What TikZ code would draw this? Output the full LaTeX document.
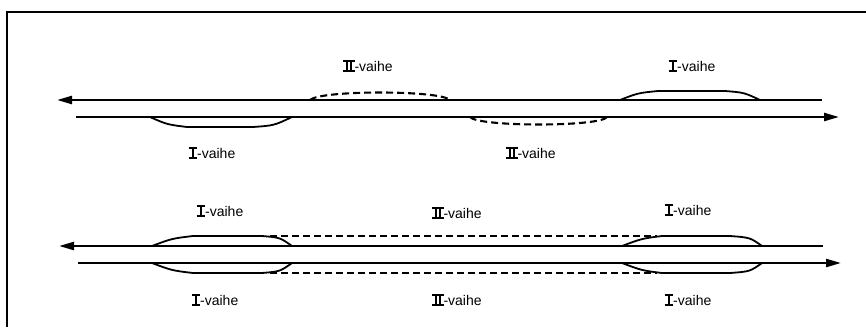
\documentclass[tikz,border=0pt]{standalone}
\usepackage{fontspec}
\setmainfont{Liberation Sans}
\usetikzlibrary{arrows.meta}
\newcommand\romI{\leavevmode\hbox{\rlap{\raisebox{-1.2pt}{\rule{8.5pt}{2pt}}}\rlap{\raisebox{9.4pt}{\rule{8.5pt}{2pt}}}\hspace{3.3pt}\rule{1.9pt}{10.5pt}\hspace{3.3pt}}}
\newcommand\romII{\leavevmode\hbox{\rlap{\raisebox{-1.2pt}{\rule{11.5pt}{2pt}}}\rlap{\raisebox{9.4pt}{\rule{11.5pt}{2pt}}}\hspace{2.7pt}\rule{1.7pt}{10.5pt}\hspace{2.4pt}\rule{1.7pt}{10.5pt}\hspace{2.7pt}}}
\tikzset{
  lbl/.style={inner sep=0pt, font=\fontsize{14}{16}\selectfont},
  track/.style={line width=2.4pt},
  tip/.style={-{Triangle[length=15pt,width=8pt]}},
  bump/.style={line width=1.8pt},
  dbump/.style={line width=2.1pt, dash pattern=on 7pt off 4pt},
  frame/.style={line width=2.2pt}
}
\begin{document}
\begin{tikzpicture}[x=1pt,y=-1pt]
\useasboundingbox (0,0) rectangle (866,327);
% frame
\coordinate (f1) at (7,327);
\coordinate (f2) at (7,12);
\coordinate (f3) at (866,12);
\draw[frame] (f1) -- (f2) -- (f3);

% ---------- top diagram ----------
\coordinate (ua) at (822,100);
\coordinate (ub) at (57,100);
\coordinate (la) at (76,117);
\coordinate (lb) at (839,117);
\draw[track,tip] (ua) -- (ub);
\draw[track,tip] (la) -- (lb);
% I-vaihe lower left (solid)
\draw[bump] (150,117) .. controls (167,124.5) .. (187,127) -- (253,127) .. controls (274,125.5) .. (292,117);
% II-vaihe upper (dashed)
\draw[dbump] (310,100) .. controls (320,90) and (440,90) .. (450,100);
% II-vaihe lower (dashed)
\draw[dbump] (470,117) .. controls (478,127) and (600,127) .. (607,117);
% I-vaihe upper right (solid)
\draw[bump] (620,100) .. controls (638,93) .. (658,91) -- (725,91) .. controls (744,92.5) .. (760,100);

\node[lbl] (t1) at (368,66) {\romII-vaihe};
\node[lbl] (t2) at (212,153) {\romI-vaihe};
\node[lbl] (t3) at (692,66) {\romI-vaihe};
\node[lbl] (t4) at (531,153) {\romII-vaihe};

% ---------- bottom diagram ----------
\coordinate (ua2) at (823,246);
\coordinate (ub2) at (59,246);
\coordinate (la2) at (78,263);
\coordinate (lb2) at (841,263);
\draw[track,tip] (ua2) -- (ub2);
\draw[track,tip] (la2) -- (lb2);
% left bumps (solid)
\draw[bump] (152,246) .. controls (172,238.5) .. (193,236) -- (262,236) .. controls (280,237.5) .. (292,246);
\draw[bump] (152,263) .. controls (172,270.5) .. (193,273) -- (262,273) .. controls (280,271.5) .. (292,263);
% right bumps (solid)
\draw[bump] (622,246) .. controls (642,238.5) .. (662,236) -- (730,236) .. controls (750,237.5) .. (762,246);
\draw[bump] (622,263) .. controls (642,270.5) .. (662,273) -- (730,273) .. controls (750,271.5) .. (762,263);
% dashed connections
\draw[dbump] (270,236) -- (657,236);
\draw[dbump] (270,273) -- (657,273);

\node[lbl] (b1) at (220,211) {\romI-vaihe};
\node[lbl] (b2) at (457,213) {\romII-vaihe};
\node[lbl] (b3) at (688,210) {\romI-vaihe};
\node[lbl] (b4) at (215,300) {\romI-vaihe};
\node[lbl] (b5) at (457,300) {\romII-vaihe};
\node[lbl] (b6) at (688,300) {\romI-vaihe};
\end{tikzpicture}
\end{document}
